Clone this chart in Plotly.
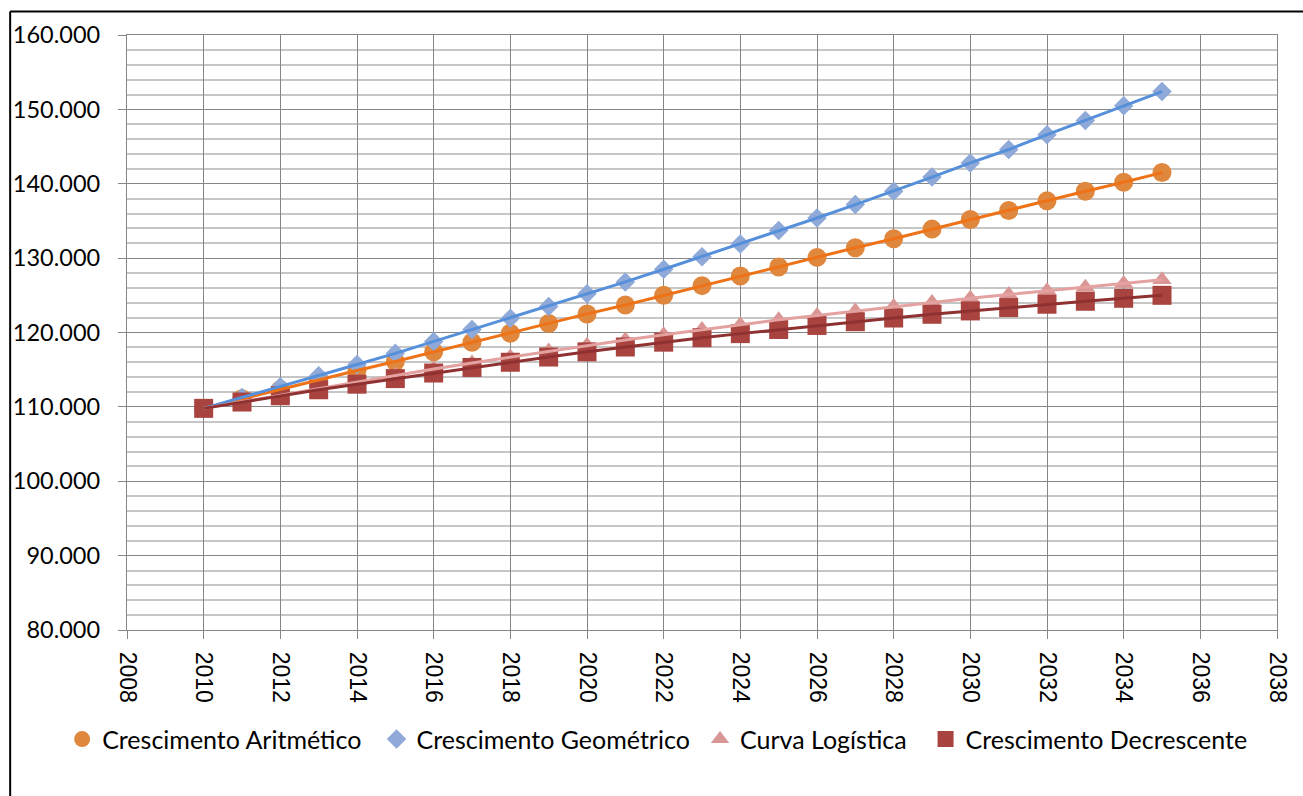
import plotly.graph_objects as go

# Population projections, 2010-2035 (inhabitants)
years = list(range(2010, 2036))

aritmetico = [109800, 111100, 112300, 113600, 114900, 116100, 117400, 118700, 119900, 121200,
              122500, 123700, 125000, 126300, 127600, 128800, 130100, 131400, 132600, 133900,
              135200, 136400, 137700, 139000, 140200, 141500]

geometrico = [109800, 111250, 112700, 114200, 115700, 117200, 118800, 120400, 121900, 123500,
              125200, 126800, 128500, 130200, 131900, 133700, 135400, 137200, 139000, 140900,
              142800, 144600, 146600, 148500, 150500, 152400]

logistica = [109800, 110700, 111600, 112500, 113400, 114300, 115100, 115900, 116700, 117500,
             118300, 119000, 119700, 120400, 121050, 121700, 122300, 122900, 123500, 124050,
             124600, 125100, 125600, 126100, 126600, 127100]

decrescente = [109800, 110650, 111500, 112300, 113050, 113800, 114550, 115300, 116000, 116700,
               117400, 118050, 118700, 119300, 119850, 120400, 120950, 121450, 121950, 122450,
               122900, 123350, 123800, 124200, 124600, 125000]

series_names = ["Crescimento Aritmético", "Crescimento Geométrico",
                "Curva Logística", "Crescimento Decrescente"]
series_values = [aritmetico, geometrico, logistica, decrescente]

marker_colors = ["#E0873E", "#8FA9D8", "#D99694", "#A9433F"]
line_colors = ["#EE7318", "#5690DA", "#E3A1A0", "#8F3131"]
symbols = ["circle", "diamond", "triangle-up", "square"]
sizes = [19, 15, 17, 19]

# one legend box per series, laid out in a row under the plot
legend_ids = ["legend", "legend2", "legend3", "legend4"]
legend_x = [-0.0564, 0.2170, 0.4983, 0.6944]

fig = go.Figure()

# markers (legend entries)
for name, vals, mc, sym, sz, lid in zip(series_names, series_values, marker_colors,
                                         symbols, sizes, legend_ids):
    fig.add_trace(go.Scatter(
        x=years, y=vals, name=name, mode="markers", legend=lid,
        marker=dict(symbol=sym, size=sz, color=mc, line=dict(width=0)),
    ))

# connecting lines drawn on top of the markers
for name, vals, lc in zip(series_names, series_values, line_colors):
    fig.add_trace(go.Scatter(
        x=years, y=vals, mode="lines", showlegend=False, hoverinfo="skip",
        line=dict(color=lc, width=3),
    ))

axis_gray = "#868686"

fig.update_xaxes(
    range=[2008, 2038], dtick=2, tick0=2008,
    showgrid=True, gridcolor=axis_gray, gridwidth=1.3,
    showline=True, linecolor=axis_gray, linewidth=1.3, mirror=True,
    ticks="outside", ticklen=8, tickcolor=axis_gray, tickwidth=1.3,
    tickangle=90, zeroline=False, ticklabelstandoff=8,
    tickfont=dict(family="Liberation Sans", size=23, color="#000000"),
)

fig.update_yaxes(
    range=[80000, 160000], dtick=10000, tick0=80000,
    tickformat=",d",
    showgrid=True, gridcolor=axis_gray, gridwidth=1.3,
    minor=dict(dtick=2000, showgrid=True, gridcolor="#C6C6C6", gridwidth=1.6),
    showline=True, linecolor=axis_gray, linewidth=1.3, mirror=True,
    ticks="outside", ticklen=8, tickcolor=axis_gray, tickwidth=1.3,
    zeroline=False, ticklabelstandoff=13,
    tickfont=dict(family="Lato", size=23.5, color="#000000"),
)

legend_style = dict(
    orientation="h", xanchor="left", y=-0.1837, yanchor="middle",
    font=dict(family="Lato", size=25, color="#000000"),
    bgcolor="rgba(0,0,0,0)",
)

fig.update_layout(
    width=1303, height=796,
    margin=dict(l=127, r=24, t=34.5, b=165.5),
    paper_bgcolor="#FFFFFF", plot_bgcolor="#FFFFFF",
    separators=",.",
    showlegend=True,
    shapes=[
        dict(type="line", xref="paper", yref="paper",
             x0=-0.1016, x1=1.2, y0=1.0394, y1=1.0394,
             line=dict(color="#000000", width=2)),
        dict(type="line", xref="paper", yref="paper",
             x0=-0.1016, x1=-0.1016, y0=-0.4, y1=1.0394,
             line=dict(color="#000000", width=2)),
    ],
)
for lid, lx in zip(legend_ids, legend_x):
    fig.update_layout({lid: dict(legend_style, x=lx)})

fig.write_html("out.html")
